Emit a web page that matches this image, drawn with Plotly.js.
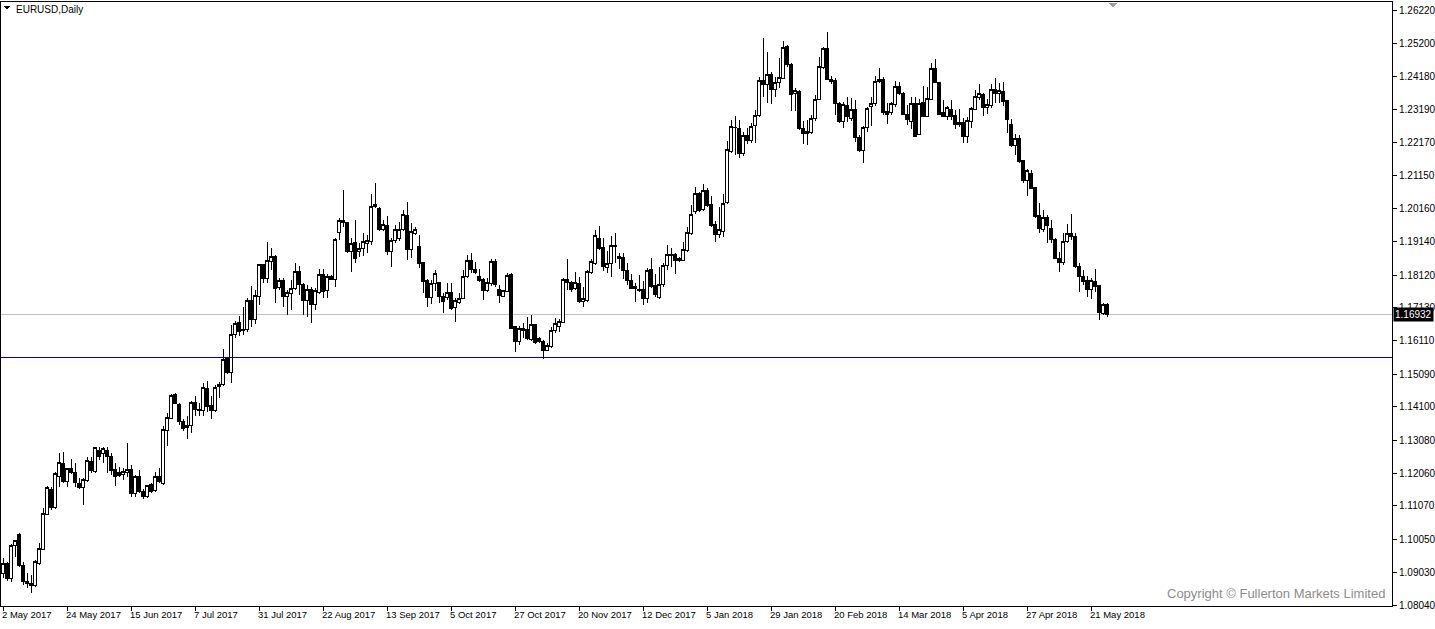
<!DOCTYPE html>
<html>
<head>
<meta charset="utf-8">
<script src="https://cdn.plot.ly/plotly-3.0.1.min.js"></script>
<style>
html,body{margin:0;padding:0;background:#fff;}
#chart{width:1435px;height:629px;}
#chart .boxes path{shape-rendering:crispEdges !important;}
#chart .shapelayer path{shape-rendering:crispEdges !important;}
</style>
</head>
<body>
<div id="chart"></div>
<script>
// ---- Data (EURUSD daily) ----
const open = [
1.0900,1.0932,1.0886,1.0985,1.1021,1.0926,1.0876,1.0869,1.0865,1.0932,
1.0974,1.1081,1.1158,1.1102,1.1196,1.1237,1.1181,1.1220,1.1210,1.1174,
1.1164,1.1184,1.1242,1.1212,1.1276,1.1268,1.1276,1.1257,1.1217,1.1209,
1.1204,1.1209,1.1219,1.1145,1.1198,1.1152,1.1135,1.1171,1.1153,1.1198,
1.1174,1.1337,1.1375,1.1446,1.1418,1.1364,1.1346,1.1352,1.1422,1.1402,
1.1398,1.1466,1.1415,1.1398,1.1471,1.1478,1.1557,1.1514,1.1632,1.1667,
1.1642,1.1646,1.1736,1.1677,1.1746,1.1843,1.1802,1.1853,1.1870,1.1775,
1.1797,1.1748,1.1756,1.1772,1.1823,1.1782,1.1734,1.1767,1.1721,1.1759,
1.1814,1.1765,1.1809,1.1799,1.1942,1.1980,1.1973,1.1884,1.1911,1.1884,
1.1894,1.1909,1.1914,1.2023,1.2016,1.1952,1.1965,1.1884,1.1919,1.1925,
1.1950,1.1993,1.1889,1.1940,1.1899,1.1850,1.1795,1.1744,1.1785,1.1790,
1.1746,1.1744,1.1758,1.1713,1.1728,1.1741,1.1807,1.1858,1.1830,1.1807,
1.1799,1.1765,1.1785,1.1853,1.1769,1.1748,1.1762,1.1815,1.1655,1.1609,
1.1644,1.1646,1.1616,1.1660,1.1619,1.1609,1.1583,1.1594,1.1644,1.1655,
1.1667,1.1799,1.1790,1.1772,1.1787,1.1731,1.1736,1.1820,1.1848,1.1924,
1.1896,1.1836,1.1848,1.1903,1.1869,1.1865,1.1826,1.1797,1.1777,1.1765,
1.1769,1.1741,1.1828,1.1779,1.1745,1.1782,1.1840,1.1871,1.1874,1.1858,
1.1858,1.1887,1.1940,1.2006,1.2060,1.2013,1.2070,1.2029,1.1968,1.1935,
1.1945,1.2035,1.2191,1.2264,1.2259,1.2184,1.2238,1.2222,1.2268,1.2299,
1.2408,1.2393,1.2424,1.2380,1.2401,1.2413,1.2510,1.2454,1.2368,1.2374,
1.2261,1.2250,1.2248,1.2291,1.2350,1.2446,1.2505,1.2404,1.2408,1.2337,
1.2281,1.2329,1.2291,1.2317,1.2233,1.2194,1.2264,1.2327,1.2335,1.2403,
1.2410,1.2311,1.2308,1.2332,1.2388,1.2367,1.2304,1.2281,1.2337,1.2243,
1.2339,1.2298,1.2349,1.2444,1.2400,1.2309,1.2298,1.2319,1.2301,1.2271,
1.2278,1.2237,1.2281,1.2318,1.2355,1.2365,1.2325,1.2329,1.2380,1.2367,
1.2372,1.2345,1.2271,1.2207,1.2230,1.2162,1.2101,1.2123,1.2080,1.1993,
1.1952,1.1989,1.1955,1.1922,1.1863,1.1850,1.1914,1.1940,1.1930,1.1838,
1.1809,1.1795,1.1769,1.1792,1.1779,1.1696,1.1721];
const high = [
1.0948,1.0937,1.0990,1.1003,1.1025,1.0936,1.0901,1.0896,1.0942,1.0993,
1.1100,1.1168,1.1166,1.1212,1.1268,1.1273,1.1224,1.1250,1.1237,1.1191,
1.1191,1.1257,1.1257,1.1288,1.1286,1.1288,1.1286,1.1270,1.1239,1.1225,
1.1222,1.1300,1.1232,1.1201,1.1217,1.1158,1.1171,1.1176,1.1212,1.1222,
1.1351,1.1392,1.1449,1.1451,1.1422,1.1371,1.1382,1.1427,1.1443,1.1420,
1.1481,1.1490,1.1443,1.1476,1.1486,1.1585,1.1561,1.1660,1.1672,1.1687,
1.1714,1.1743,1.1779,1.1767,1.1845,1.1845,1.1914,1.1894,1.1874,1.1802,
1.1802,1.1767,1.1797,1.1848,1.1840,1.1789,1.1782,1.1777,1.1772,1.1830,
1.1830,1.1817,1.1812,1.1924,1.1986,1.2072,1.1975,1.1924,1.1980,1.1909,
1.1940,1.1935,1.2060,1.2092,1.2019,1.1980,1.1993,1.1924,1.1965,1.1975,
1.2011,1.2036,1.1972,1.1960,1.1935,1.1853,1.1799,1.1797,1.1828,1.1792,
1.1756,1.1789,1.1787,1.1741,1.1758,1.1828,1.1873,1.1880,1.1853,1.1830,
1.1802,1.1802,1.1860,1.1860,1.1782,1.1767,1.1820,1.1818,1.1657,1.1657,
1.1665,1.1683,1.1690,1.1663,1.1624,1.1614,1.1604,1.1653,1.1680,1.1677,
1.1802,1.1860,1.1795,1.1823,1.1807,1.1777,1.1828,1.1860,1.1950,1.1962,
1.1925,1.1887,1.1932,1.1940,1.1879,1.1879,1.1848,1.1816,1.1789,1.1812,
1.1794,1.1833,1.1865,1.1816,1.1838,1.1848,1.1904,1.1894,1.1879,1.1868,
1.1914,1.1960,1.2026,1.2082,1.2067,1.2090,1.2077,1.2054,1.1978,1.2021,
1.2060,1.2222,1.2286,1.2298,1.2286,1.2249,1.2260,1.2276,1.2317,1.2418,
1.2535,1.2493,1.2434,1.2416,1.2474,1.2527,1.2515,1.2460,1.2383,1.2378,
1.2283,1.2286,1.2300,1.2362,1.2479,1.2510,1.2556,1.2420,1.2414,1.2342,
1.2342,1.2355,1.2352,1.2347,1.2240,1.2268,1.2327,1.2357,1.2420,1.2444,
1.2418,1.2337,1.2342,1.2406,1.2403,1.2370,1.2332,1.2357,1.2357,1.2349,
1.2390,1.2386,1.2461,1.2471,1.2403,1.2347,1.2329,1.2347,1.2317,1.2319,
1.2291,1.2294,1.2325,1.2378,1.2396,1.2369,1.2349,1.2396,1.2413,1.2398,
1.2403,1.2347,1.2288,1.2243,1.2240,1.2164,1.2135,1.2133,1.2082,1.2031,
1.2011,1.1996,1.1980,1.1925,1.1884,1.1942,1.1968,1.1999,1.1940,1.1850,
1.1828,1.1809,1.1802,1.1830,1.1782,1.1728,1.1726];
const low = [
1.0888,1.0877,1.0874,1.0952,1.0920,1.0866,1.0855,1.0842,1.0860,1.0927,
1.0972,1.1079,1.1095,1.1098,1.1164,1.1176,1.1166,1.1205,1.1164,1.1160,
1.1110,1.1181,1.1207,1.1207,1.1247,1.1237,1.1207,1.1201,1.1168,1.1194,
1.1186,1.1194,1.1133,1.1135,1.1147,1.1127,1.1130,1.1145,1.1150,1.1176,
1.1171,1.1291,1.1372,1.1418,1.1354,1.1337,1.1311,1.1331,1.1382,1.1383,
1.1383,1.1395,1.1371,1.1393,1.1436,1.1473,1.1509,1.1481,1.1619,1.1626,
1.1629,1.1638,1.1653,1.1663,1.1721,1.1787,1.1787,1.1828,1.1728,1.1767,
1.1716,1.1690,1.1706,1.1767,1.1751,1.1690,1.1685,1.1665,1.1706,1.1754,
1.1741,1.1741,1.1797,1.1775,1.1919,1.1960,1.1881,1.1823,1.1848,1.1868,
1.1869,1.1879,1.1904,1.2016,1.1948,1.1948,1.1873,1.1838,1.1911,1.1917,
1.1948,1.1858,1.1863,1.1935,1.1833,1.1758,1.1716,1.1724,1.1765,1.1726,
1.1697,1.1736,1.1706,1.1670,1.1724,1.1738,1.1802,1.1818,1.1816,1.1790,
1.1736,1.1760,1.1779,1.1777,1.1728,1.1744,1.1760,1.1646,1.1578,1.1599,
1.1619,1.1614,1.1612,1.1602,1.1604,1.1555,1.1581,1.1588,1.1634,1.1639,
1.1665,1.1767,1.1762,1.1767,1.1728,1.1714,1.1731,1.1815,1.1843,1.1890,
1.1826,1.1818,1.1807,1.1850,1.1830,1.1799,1.1782,1.1769,1.1731,1.1762,
1.1721,1.1728,1.1772,1.1746,1.1738,1.1777,1.1828,1.1838,1.1816,1.1853,
1.1856,1.1884,1.1935,1.1999,1.2006,1.2009,1.2019,1.1960,1.1914,1.1925,
1.1930,1.2030,1.2184,1.2180,1.2169,1.2175,1.2212,1.2215,1.2215,1.2296,
1.2357,1.2337,1.2334,1.2355,1.2385,1.2411,1.2449,1.2314,1.2312,1.2256,
1.2212,1.2210,1.2243,1.2283,1.2347,1.2442,1.2408,1.2395,1.2302,1.2276,
1.2261,1.2281,1.2284,1.2220,1.2189,1.2154,1.2250,1.2268,1.2329,1.2398,
1.2301,1.2274,1.2301,1.2327,1.2362,1.2301,1.2271,1.2257,1.2235,1.2240,
1.2296,1.2296,1.2347,1.2398,1.2301,1.2296,1.2286,1.2286,1.2257,1.2266,
1.2217,1.2215,1.2261,1.2316,1.2347,1.2298,1.2304,1.2322,1.2337,1.2339,
1.2329,1.2247,1.2203,1.2179,1.2156,1.2095,1.2054,1.2074,1.1986,1.1940,
1.1945,1.1911,1.1909,1.1860,1.1823,1.1843,1.1910,1.1918,1.1833,1.1762,
1.1782,1.1746,1.1740,1.1760,1.1675,1.1690,1.1685];
const close = [
1.0932,1.0886,1.0985,1.1000,1.0924,1.0876,1.0869,1.0865,1.0936,1.0977,
1.1084,1.1163,1.1102,1.1207,1.1240,1.1183,1.1222,1.1210,1.1178,1.1164,
1.1188,1.1247,1.1215,1.1286,1.1257,1.1283,1.1257,1.1215,1.1198,1.1201,
1.1212,1.1219,1.1145,1.1196,1.1150,1.1135,1.1169,1.1150,1.1198,1.1181,
1.1339,1.1378,1.1443,1.1420,1.1364,1.1342,1.1354,1.1423,1.1402,1.1398,
1.1469,1.1410,1.1400,1.1469,1.1478,1.1555,1.1514,1.1631,1.1665,1.1639,
1.1647,1.1736,1.1677,1.1750,1.1843,1.1802,1.1858,1.1868,1.1772,1.1797,
1.1748,1.1758,1.1772,1.1823,1.1782,1.1734,1.1769,1.1721,1.1765,1.1814,
1.1762,1.1809,1.1799,1.1921,1.1980,1.1972,1.1884,1.1909,1.1863,1.1894,
1.1914,1.1919,1.2023,1.2029,1.1950,1.1968,1.1884,1.1919,1.1950,1.1952,
1.1996,1.1889,1.1945,1.1950,1.1848,1.1792,1.1744,1.1787,1.1817,1.1746,
1.1731,1.1758,1.1711,1.1734,1.1741,1.1807,1.1856,1.1830,1.1820,1.1797,
1.1765,1.1789,1.1853,1.1782,1.1751,1.1765,1.1812,1.1649,1.1609,1.1649,
1.1649,1.1617,1.1660,1.1606,1.1609,1.1583,1.1596,1.1644,1.1665,1.1670,
1.1799,1.1789,1.1767,1.1789,1.1731,1.1741,1.1823,1.1853,1.1932,1.1894,
1.1838,1.1848,1.1904,1.1899,1.1864,1.1826,1.1795,1.1772,1.1772,1.1769,
1.1741,1.1826,1.1777,1.1752,1.1782,1.1840,1.1874,1.1874,1.1858,1.1863,
1.1889,1.1943,1.1998,1.2060,1.2011,1.2070,1.2026,1.1965,1.1935,1.1950,
1.2031,1.2197,1.2266,1.2262,1.2184,1.2238,1.2222,1.2266,1.2299,1.2408,
1.2393,1.2424,1.2380,1.2401,1.2415,1.2507,1.2454,1.2363,1.2376,1.2261,
1.2245,1.2245,1.2291,1.2350,1.2449,1.2505,1.2411,1.2410,1.2337,1.2281,
1.2332,1.2296,1.2317,1.2233,1.2194,1.2264,1.2322,1.2335,1.2403,1.2410,
1.2308,1.2304,1.2335,1.2388,1.2367,1.2304,1.2288,1.2335,1.2237,1.2337,
1.2298,1.2352,1.2444,1.2400,1.2304,1.2298,1.2325,1.2296,1.2271,1.2278,
1.2237,1.2284,1.2322,1.2357,1.2367,1.2325,1.2332,1.2380,1.2367,1.2375,
1.2342,1.2286,1.2207,1.2230,1.2159,1.2101,1.2131,1.2077,1.1991,1.1955,
1.1989,1.1965,1.1922,1.1863,1.1850,1.1914,1.1940,1.1930,1.1838,1.1807,
1.1792,1.1769,1.1795,1.1777,1.1697,1.1721,1.16932];

const xTickBars = [0,16,32,48,64,80,96,112,128,144,160,176,192,208,224,240,256,272];
const xTickLabels = ['2 May 2017','24 May 2017','15 Jun 2017','7 Jul 2017','31 Jul 2017','22 Aug 2017',
  '13 Sep 2017','5 Oct 2017','27 Oct 2017','20 Nov 2017','12 Dec 2017','5 Jan 2018','29 Jan 2018',
  '20 Feb 2018','14 Mar 2018','5 Apr 2018','27 Apr 2018','21 May 2018'];
const yTickValues = [1.26220,1.25200,1.24180,1.23190,1.22170,1.21150,1.20160,1.19140,1.18120,1.17130,
  1.16110,1.15090,1.14100,1.13080,1.12060,1.11070,1.10050,1.09030,1.08040];
const yTickLabels = ['1.26220','1.25200','1.24180','1.23190','1.22170','1.21150','1.20160','1.19140','1.18120','1.17130',
  '1.16110','1.15090','1.14100','1.13080','1.12060','1.11070','1.10050','1.09030','1.08040'];
const bidPrice = 1.16932;
const levelPrice = 1.15619;
const symbolTitle = 'EURUSD,Daily';
const copyrightText = 'Copyright © Fullerton Markets Limited';

const bars = open.map((_, i) => i);

// plot area geometry (pixels)
const W = 1435, H = 629, L = 1, R = 1392, T = 2, B = 606;
const px = x => (x - L) / (R - L);
const py = y => (B - y) / (B - T);

const FONT = 'Liberation Sans, Arial, sans-serif';

const trace = {
  type: 'candlestick',
  x: bars, open: open, high: high, low: low, close: close,
  increasing: {line: {color: '#000000', width: 1}, fillcolor: '#ffffff'},
  decreasing: {line: {color: '#000000', width: 1}, fillcolor: '#000000'},
  whiskerwidth: 0,
  hoverinfo: 'skip',
  showlegend: false
};

const layout = {
  width: W, height: H,
  margin: {l: L, r: W - R, t: T, b: H - B, pad: 0},
  paper_bgcolor: '#ffffff', plot_bgcolor: '#ffffff',
  showlegend: false,
  boxgap: 0.25,
  font: {family: FONT, size: 10, color: '#000'},
  xaxis: {
    type: 'linear', range: [-0.5, -0.5 + (R - L) / 4],
    rangeslider: {visible: false},
    showgrid: false, zeroline: false,
    showline: true, mirror: true, linecolor: '#000', linewidth: 1,
    tickmode: 'array', tickvals: xTickBars, ticktext: xTickLabels,
    ticks: 'outside', ticklen: 4, tickcolor: '#000', tickwidth: 1,
    ticklabelposition: 'outside right', tickangle: 0, ticklabelshift: -2,
    tickfont: {family: FONT, size: 9.5, color: '#000'},
    fixedrange: true
  },
  yaxis: {
    side: 'right',
    range: [1.265255 - 0.0003055 * B, 1.265255 - 0.0003055 * T],
    showgrid: false, zeroline: false,
    showline: true, mirror: true, linecolor: '#000', linewidth: 1,
    tickmode: 'array', tickvals: yTickValues, ticktext: yTickLabels,
    ticks: 'outside', ticklen: 4, tickcolor: '#000', tickwidth: 1,
    tickfont: {family: FONT, size: 10, color: '#000'},
    fixedrange: true
  },
  shapes: [
    {type: 'line', xref: 'paper', x0: 0, x1: 1, yref: 'y', y0: bidPrice, y1: bidPrice,
     line: {color: '#C0C0C0', width: 1}, layer: 'below'},
    {type: 'line', xref: 'paper', x0: 0, x1: 1, yref: 'y', y0: levelPrice, y1: levelPrice,
     line: {color: '#0000CD', width: 1}, layer: 'above'},
    {type: 'path', xref: 'paper', yref: 'paper',
     path: `M ${px(4)} ${py(6)} L ${px(10)} ${py(6)} L ${px(7)} ${py(9.5)} Z`,
     fillcolor: '#000', line: {width: 0}},
    {type: 'path', xref: 'paper', yref: 'paper',
     path: `M ${px(1108)} ${py(2.5)} L ${px(1118)} ${py(2.5)} L ${px(1113)} ${py(7.5)} Z`,
     fillcolor: '#A0A0A0', line: {width: 0}}
  ],
  annotations: [
    {xref: 'paper', yref: 'paper', x: px(14), y: py(10), xanchor: 'left', yanchor: 'middle',
     text: symbolTitle, showarrow: false, font: {family: FONT, size: 10, color: '#000'}},
    {xref: 'paper', yref: 'y', x: 1, y: bidPrice, xanchor: 'left', yanchor: 'middle', xshift: 1,
     text: bidPrice.toFixed(5), showarrow: false, bgcolor: '#000', borderpad: 1,
     font: {family: FONT, size: 10, color: '#fff'}},
    {xref: 'paper', yref: 'paper', x: px(1387), y: py(593), xanchor: 'right', yanchor: 'middle',
     text: copyrightText, showarrow: false, font: {family: FONT, size: 13, color: '#8C8C8C'}}
  ]
};

Plotly.newPlot('chart', [trace], layout, {displayModeBar: false, staticPlot: true});
</script>
</body>
</html>
